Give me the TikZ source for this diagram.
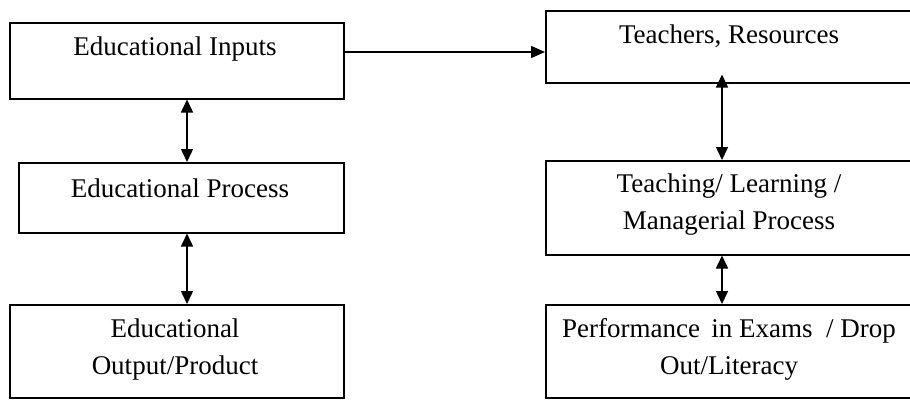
\documentclass[tikz,border=0pt]{standalone}
\usepackage{fontspec}
\setmainfont{Liberation Serif}
\usetikzlibrary{arrows.meta}
\begin{document}
\begin{tikzpicture}[x=1pt,y=-1pt,
  box/.style={draw=black, line width=1.5pt, rectangle, inner sep=0pt, anchor=north west},
  txt/.style={inner sep=0pt, align=center, anchor=base, font=\fontsize{27}{37}\selectfont},
  link/.style={line width=1.5pt, -{Triangle[length=14pt,width=12pt]}},
  dlink/.style={line width=1.5pt, {Triangle[length=13pt,width=12pt]}-{Triangle[length=13pt,width=12pt]}}]
\useasboundingbox (0,0) rectangle (910,399);
\clip (0,0) rectangle (910,399);
% left column
\node[box, minimum width=334pt, minimum height=76pt] (b1) at (9,22) {};
\node[box, minimum width=325pt, minimum height=70pt] (b2) at (18,162) {};
\node[box, minimum width=334pt, minimum height=93pt] (b3) at (9,304) {};
% right column (runs past the right edge)
\node[box, minimum width=370pt, minimum height=72pt] (b4) at (545,10) {};
\node[box, minimum width=370pt, minimum height=94pt] (b5) at (545,160) {};
\node[box, minimum width=370pt, minimum height=93pt] (b6) at (545,304) {};
% texts (multi-line nodes are anchored at the last line's baseline)
\node[txt] (t1) at (175,55) {Educational Inputs};
\node[txt] (t2) at (180,197) {Educational Process};
\node[txt] (t3) at (175,374) {Educational\\Output/Product};
\node[txt] (t4) at (729,43) {Teachers, Resources};
\node[txt] (t5) at (729,229) {Teaching/ Learning /\\Managerial Process};
\node[txt] (t6) at (729,374) {Performance\, in Exams\ \ / Drop\\Out/Literacy};
% connector guides
\coordinate (lx) at (187,0);
\coordinate (rx) at (722,0);
\coordinate (hy) at (0,52);
\draw[link] (b1.east |- hy) -- (b4.west |- hy);
\draw[dlink] (b1.south -| lx) -- (b2.north -| lx);
\draw[dlink] (b2.south -| lx) -- (b3.north -| lx);
\draw[dlink] ([yshift=9pt]b4.south -| rx) -- (b5.north -| rx);
\draw[dlink] (b5.south -| rx) -- (b6.north -| rx);
\end{tikzpicture}
\end{document}
